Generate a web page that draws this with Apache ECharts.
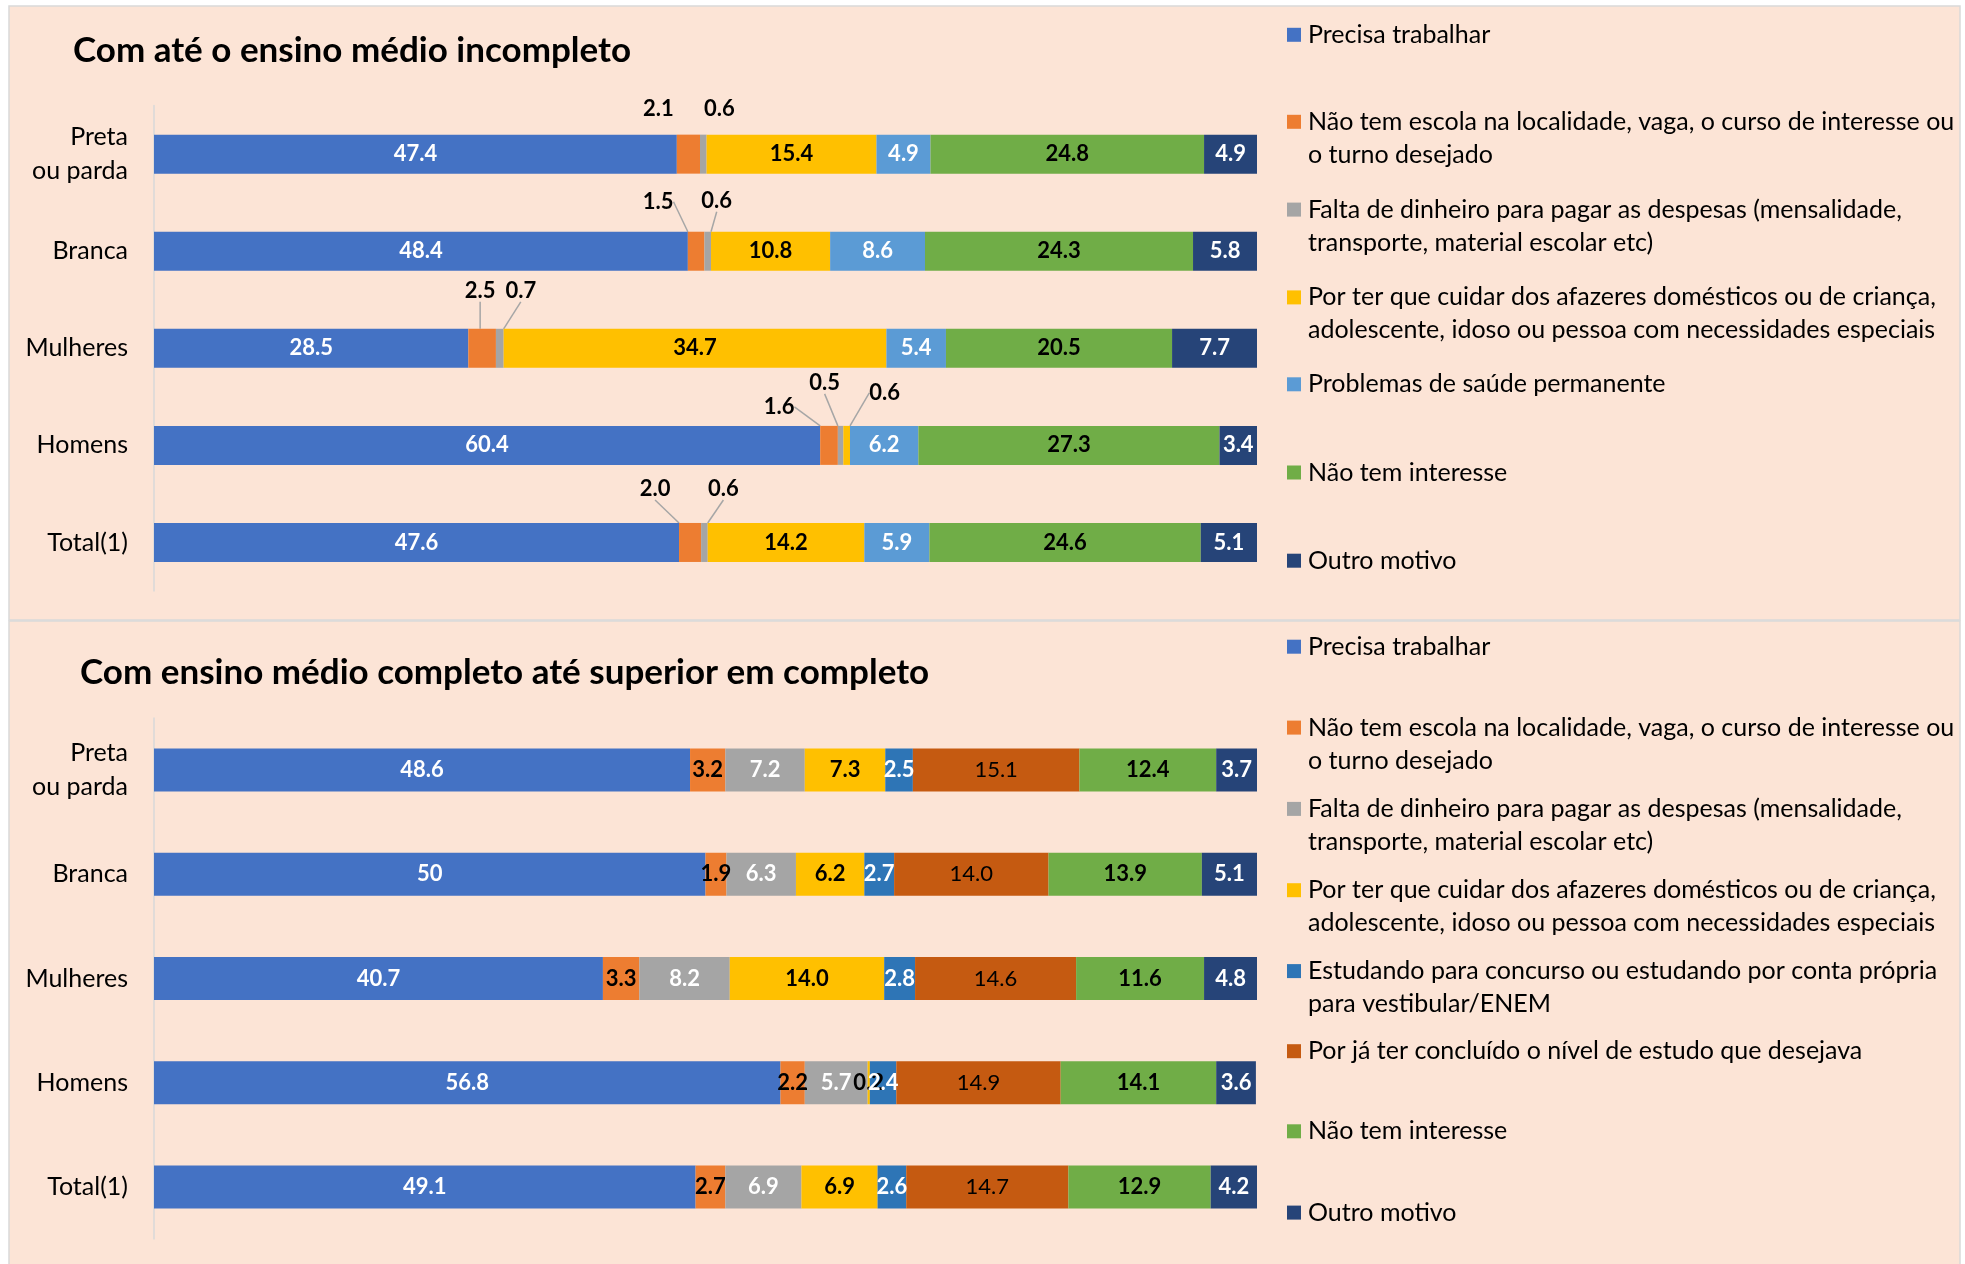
<!DOCTYPE html>
<html><head><meta charset="utf-8">
<script src="https://cdn.jsdelivr.net/npm/echarts@6/dist/echarts.min.js"></script>
<style>html,body{margin:0;padding:0;background:#fff}#c{width:1965px;height:1264px}</style>
</head><body><div id="c"></div>
<script>
const categories = ['Preta\nou parda', 'Branca', 'Mulheres', 'Homens', 'Total(1)'];
const titleTop = 'Com até o ensino médio incompleto';
const titleBottom = 'Com ensino médio completo até superior em completo';

// Top panel (%)
const topPrecisa      = ['47.4', '48.4', '28.5', '60.4', '47.6'];
const topSemEscola    = ['2.1', '1.5', '2.5', '1.6', '2.0'];
const topSemDinheiro  = ['0.6', '0.6', '0.7', '0.5', '0.6'];
const topCuidar       = ['15.4', '10.8', '34.7', '0.6', '14.2'];
const topSaude        = ['4.9', '8.6', '5.4', '6.2', '5.9'];
const topSemInteresse = ['24.8', '24.3', '20.5', '27.3', '24.6'];
const topOutro        = ['4.9', '5.8', '7.7', '3.4', '5.1'];

// Bottom panel (%)
const botPrecisa      = ['48.6', '50', '40.7', '56.8', '49.1'];
const botSemEscola    = ['3.2', '1.9', '3.3', '2.2', '2.7'];
const botSemDinheiro  = ['7.2', '6.3', '8.2', '5.7', '6.9'];
const botCuidar       = ['7.3', '6.2', '14.0', '0.2', '6.9'];
const botEstudando    = ['2.5', '2.7', '2.8', '2.4', '2.6'];
const botConcluido    = ['15.1', '14.0', '14.6', '14.9', '14.7'];
const botSemInteresse = ['12.4', '13.9', '11.6', '14.1', '12.9'];
const botOutro        = ['3.7', '5.1', '4.8', '3.6', '4.2'];

const N = {
  precisa: 'Precisa trabalhar',
  escola: 'Não tem escola na localidade, vaga, o curso de interesse ou o turno desejado',
  dinheiro: 'Falta de dinheiro para pagar as despesas (mensalidade, transporte, material escolar etc)',
  cuidar: 'Por ter que cuidar dos afazeres domésticos ou de criança, adolescente, idoso ou pessoa com necessidades especiais',
  saude: 'Problemas de saúde permanente',
  interesse: 'Não tem interesse',
  outro: 'Outro motivo',
  estudando: 'Estudando para concurso ou estudando por conta própria para vestibular/ENEM',
  concluido: 'Por já ter concluído o nível de estudo que desejava'
};
const wrapped = {};
wrapped[N.precisa] = 'Precisa trabalhar';
wrapped[N.escola] = 'Não tem escola na localidade, vaga, o curso de interesse ou\no turno desejado';
wrapped[N.dinheiro] = 'Falta de dinheiro para pagar as despesas (mensalidade,\ntransporte, material escolar etc)';
wrapped[N.cuidar] = 'Por ter que cuidar dos afazeres domésticos ou de criança,\nadolescente, idoso ou pessoa com necessidades especiais';
wrapped[N.saude] = 'Problemas de saúde permanente';
wrapped[N.interesse] = 'Não tem interesse';
wrapped[N.outro] = 'Outro motivo';
wrapped[N.estudando] = 'Estudando para concurso ou estudando por conta própria\npara vestibular/ENEM';
wrapped[N.concluido] = 'Por já ter concluído o nível de estudo que desejava';

const C = {
  precisa: '#4472C4', escola: '#ED7D31', dinheiro: '#A5A5A5', cuidar: '#FFC000',
  saude: '#5B9BD5', interesse: '#70AD47', outro: '#264478', estudando: '#2E75B6', concluido: '#C55A11'
};

const FONT = 'Lato';
const lblBase = { fontFamily: FONT, fontSize: 22, fontWeight: 'bold' };
function inside(color, weight) {
  return Object.assign({ show: true, position: 'inside' }, lblBase, { color: color, fontWeight: weight || 'bold' });
}
const leader = { color: '#A6A6A6', width: 1.5 };

// label offsets for small outside labels (dx from segment center, dy from bar top)
const offEscola = [[-30, -26], [-38, -30], [-2, -38], [-50, -19], [-35, -34]];
const offDinheiro = [[16, -26], [9, -31], [21, -38], [-16, -43], [19, -34]];
const offCuidar = [null, null, null, [38, -33], null];

function layoutWith(offs) {
  return function (p) {
    const o = offs[p.dataIndex];
    if (!o) return {};
    return { x: p.rect.x + p.rect.width / 2 + o[0], y: p.rect.y + o[1], align: 'center', verticalAlign: 'middle' };
  };
}

function bar(name, arr, idx, color, label, extra) {
  return Object.assign({
    type: 'bar', name: name, stack: 'st' + idx, xAxisIndex: idx, yAxisIndex: idx,
    barWidth: idx ? 43 : 39,
    itemStyle: { color: color },
    label: Object.assign({ formatter: function (p) { return arr[p.dataIndex]; } }, label),
    data: arr.map(Number),
    emphasis: { disabled: true }
  }, extra || {});
}

const series = [
  bar(N.precisa, topPrecisa, 0, C.precisa, inside('#fff')),
  bar(N.escola, topSemEscola, 0, C.escola, Object.assign({ show: true, position: 'top', color: '#000' }, lblBase), {
    labelLine: { show: true, lineStyle: leader },
    labelLayout: layoutWith(offEscola),
    data: topSemEscola.map(function (v, i) { return i === 0 ? { value: +v, labelLine: { show: false } } : +v; })
  }),
  bar(N.dinheiro, topSemDinheiro, 0, C.dinheiro, Object.assign({ show: true, position: 'top', color: '#000' }, lblBase), {
    labelLine: { show: true, lineStyle: leader },
    labelLayout: layoutWith(offDinheiro),
    data: topSemDinheiro.map(function (v, i) { return i === 0 ? { value: +v, labelLine: { show: false } } : +v; })
  }),
  bar(N.cuidar, topCuidar, 0, C.cuidar, inside('#000'), {
    labelLine: { show: false, lineStyle: leader },
    labelLayout: layoutWith(offCuidar),
    data: topCuidar.map(function (v, i) {
      return offCuidar[i] ? { value: +v, label: { position: 'top' }, labelLine: { show: true, lineStyle: leader } } : +v;
    })
  }),
  bar(N.saude, topSaude, 0, C.saude, inside('#fff')),
  bar(N.interesse, topSemInteresse, 0, C.interesse, inside('#000')),
  bar(N.outro, topOutro, 0, C.outro, inside('#fff')),

  bar(N.precisa, botPrecisa, 1, C.precisa, inside('#fff')),
  bar(N.escola, botSemEscola, 1, C.escola, inside('#000')),
  bar(N.dinheiro, botSemDinheiro, 1, C.dinheiro, inside('#fff')),
  bar(N.cuidar, botCuidar, 1, C.cuidar, inside('#000')),
  bar(N.estudando, botEstudando, 1, C.estudando, inside('#fff')),
  bar(N.concluido, botConcluido, 1, C.concluido, inside('#000', 'normal')),
  bar(N.interesse, botSemInteresse, 1, C.interesse, inside('#000')),
  bar(N.outro, botOutro, 1, C.outro, inside('#fff'))
];

const topLegendNames = [N.precisa, N.escola, N.dinheiro, N.cuidar, N.saude, N.interesse, N.outro];
const botLegendNames = [N.precisa, N.escola, N.dinheiro, N.cuidar, N.estudando, N.concluido, N.interesse, N.outro];
const topLegendY = [34.8, 121.8, 209.6, 297.4, 384.3, 472.5, 560.7];
const botLegendY = [646.7, 727.6, 808.9, 890.2, 971.1, 1051.2, 1131.3, 1212.6];
const LH = 33;
function mkLegend(name, cy) {
  const two = wrapped[name].indexOf('\n') >= 0;
  return {
    data: [{ name: name, icon: 'rect' }],
    orient: 'vertical', left: 1287, top: two ? cy - 1.5 * LH : cy - LH / 2,
    padding: 0, itemWidth: 14, itemHeight: 14, itemGap: 0, selectedMode: false,
    formatter: function (n) { return two ? '\n' + wrapped[n] : wrapped[n]; },
    textStyle: { fontFamily: FONT, fontSize: 25, lineHeight: LH, color: '#000', padding: [0, 0, 0, 2] }
  };
}
const legends = topLegendNames.map(function (n, i) { return mkLegend(n, topLegendY[i]); })
  .concat(botLegendNames.map(function (n, i) { return mkLegend(n, botLegendY[i]); }));

const chart = echarts.init(document.getElementById('c'), null, { renderer: 'canvas' });
chart.setOption({
  animation: false,
  backgroundColor: '#ffffff',
  graphic: [
    { type: 'rect', z: -1, silent: true, shape: { x: 9, y: 6, width: 1951, height: 614 }, style: { fill: '#FCE4D6', stroke: '#D9D9D9', lineWidth: 1.5 } },
    { type: 'rect', z: -1, silent: true, shape: { x: 9, y: 621, width: 1951, height: 645 }, style: { fill: '#FCE4D6', stroke: '#D9D9D9', lineWidth: 1.5 } }
  ],
  title: [
    { text: titleTop, left: 73, top: 30, padding: 0, textStyle: { fontFamily: FONT, fontSize: 35, fontWeight: 'bold', color: '#000', lineHeight: 42 } },
    { text: titleBottom, left: 80, top: 652, padding: 0, textStyle: { fontFamily: FONT, fontSize: 35, fontWeight: 'bold', color: '#000', lineHeight: 42 } }
  ],
  legend: legends,
  grid: [
    { left: 154, top: 105.6, width: 1103, height: 485.4, outerBoundsMode: 'none' },
    { left: 154, top: 718, width: 1103, height: 521, outerBoundsMode: 'none' }
  ],
  xAxis: [0, 1].map(function (i) { return { type: 'value', gridIndex: i, min: 0, max: 100, show: false }; }),
  yAxis: [0, 1].map(function (i) {
    return {
      type: 'category', gridIndex: i, data: categories, inverse: true,
      axisLine: { show: true, lineStyle: { color: '#D9D9D9', width: 1.5 } },
      axisTick: { show: false }, splitLine: { show: false },
      axisLabel: { fontFamily: FONT, fontSize: 25, color: '#000', margin: 26, lineHeight: 34, align: 'right' }
    };
  }),
  series: series
});
</script></body></html>
